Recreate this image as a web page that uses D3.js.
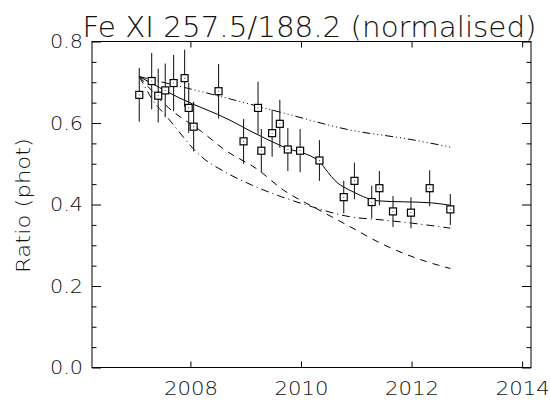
<!DOCTYPE html>
<html>
<head>
<meta charset="utf-8">
<script src="https://cdn.jsdelivr.net/npm/d3@7/dist/d3.min.js"></script>
<style>
  body { margin: 0; background: #fff; }
  text { font-family: "DejaVu Sans", sans-serif; font-weight: 200; fill: #111; }
</style>
</head>
<body>
<svg id="chart" width="550" height="403"></svg>
<script>
// Observed Fe XI 257.5/188.2 ratio (normalised), with 1-sigma errors
const obsYear = [2007.075, 2007.299, 2007.418, 2007.545, 2007.696, 2007.895, 2007.969, 2008.058,
                 2008.509, 2008.961, 2009.223, 2009.283, 2009.478, 2009.617, 2009.762, 2009.984,
                 2010.334, 2010.773, 2010.967, 2011.279, 2011.418, 2011.664, 2011.989, 2012.327, 2012.701];
const obsRatio = [0.669, 0.703, 0.667, 0.680, 0.698, 0.710, 0.637, 0.591,
                  0.678, 0.555, 0.637, 0.532, 0.575, 0.598, 0.535, 0.532,
                  0.508, 0.418, 0.458, 0.406, 0.440, 0.383, 0.380, 0.440, 0.388];
const obsErr = [0.066, 0.069, 0.066, 0.066, 0.069, 0.070, 0.061, 0.061,
                0.067, 0.055, 0.064, 0.053, 0.058, 0.059, 0.053, 0.053,
                0.050, 0.040, 0.045, 0.040, 0.042, 0.038, 0.038, 0.044, 0.038];

// Smoothed fit through the observations (solid)
const fitYear  = [2007.075, 2007.810, 2008.714, 2009.075, 2009.671, 2010.339, 2010.430, 2010.670,
                  2010.761, 2010.972, 2011.393, 2012.358, 2012.701];
const fitRatio = [0.714, 0.661, 0.607, 0.581, 0.542, 0.505, 0.489, 0.452,
                  0.444, 0.429, 0.409, 0.404, 0.398];

// Model curves
const modelAYear  = [2007.075, 2008.804, 2009.472, 2009.671, 2010.882, 2011.966, 2012.701];
const modelARatio = [0.714, 0.656, 0.632, 0.625, 0.583, 0.560, 0.541];

const modelBYear  = [2007.075, 2007.599, 2008.202, 2008.623, 2009.225, 2009.677, 2010.280,
                     2010.882, 2011.424, 2012.267, 2012.701];
const modelBRatio = [0.714, 0.638, 0.579, 0.534, 0.485, 0.436, 0.390,
                     0.346, 0.306, 0.260, 0.243];

const modelCYear  = [2007.075, 2007.322, 2007.593, 2008.202, 2008.623, 2009.106, 2009.648,
                     2010.069, 2010.882, 2011.483, 2012.020, 2012.701];
const modelCRatio = [0.714, 0.656, 0.612, 0.517, 0.480, 0.448, 0.419,
                     0.400, 0.370, 0.362, 0.354, 0.342];

const xTickVals = [2008, 2010, 2012, 2014];
const yTickVals = [0.0, 0.2, 0.4, 0.6, 0.8];
const yMinorVals = [0.05, 0.1, 0.15, 0.25, 0.3, 0.35, 0.45, 0.5, 0.55, 0.65, 0.7, 0.75];

const svg = d3.select("#chart");
const L = 92, R = 531, T = 41.5, B = 367.5;

const x = d3.scaleLinear().domain([2006.22, 2014.16]).range([L, R]);
const y = d3.scaleLinear().domain([0, 0.8]).range([B, T]);

// Frame
svg.append("rect")
  .attr("x", L).attr("y", T).attr("width", R - L).attr("height", B - T)
  .attr("fill", "none").attr("stroke", "#000").attr("stroke-width", 1);

function styleAxis(g) {
  g.select(".domain").remove();
  g.selectAll(".tick line").attr("stroke", "#000").attr("stroke-width", 1);
}

// Left axis with labels
svg.append("g").attr("transform", `translate(${L},0)`)
  .call(d3.axisLeft(y).tickValues(yTickVals).tickSize(-9).tickPadding(9)
        .tickFormat(d3.format(".1f")))
  .call(styleAxis)
  .call(g => g.selectAll(".tick text").attr("font-size", 19)
        .attr("fill", "#111").attr("font-family", "DejaVu Sans").attr("font-weight", 200)
        .attr("textLength", 33).attr("lengthAdjust", "spacingAndGlyphs"));
svg.append("g").attr("transform", `translate(${L},0)`)
  .call(d3.axisLeft(y).tickValues(yMinorVals).tickSize(-4.5).tickFormat(""))
  .call(styleAxis);

// Right axis
svg.append("g").attr("transform", `translate(${R},0)`)
  .call(d3.axisRight(y).tickValues(yTickVals).tickSize(-9).tickFormat(""))
  .call(styleAxis);
svg.append("g").attr("transform", `translate(${R},0)`)
  .call(d3.axisRight(y).tickValues(yMinorVals).tickSize(-4.5).tickFormat(""))
  .call(styleAxis);

// Bottom axis with labels
svg.append("g").attr("transform", `translate(0,${B})`)
  .call(d3.axisBottom(x).tickValues(xTickVals).tickSize(-6).tickPadding(14)
        .tickFormat(d3.format("d")))
  .call(styleAxis)
  .call(g => g.selectAll(".tick text").attr("font-size", 19)
        .attr("fill", "#111").attr("font-family", "DejaVu Sans").attr("font-weight", 200)
        .attr("textLength", 54).attr("lengthAdjust", "spacingAndGlyphs"));

// Top axis
svg.append("g").attr("transform", `translate(0,${T})`)
  .call(d3.axisTop(x).tickValues(xTickVals).tickSize(-6).tickFormat(""))
  .call(styleAxis);

// Title
svg.append("text")
  .attr("x", 309.5).attr("y", 37)
  .attr("text-anchor", "middle")
  .attr("font-size", 28)
  .attr("textLength", 454).attr("lengthAdjust", "spacingAndGlyphs")
  .text("Fe XI 257.5/188.2 (normalised)");

// Y-axis title
svg.append("text")
  .attr("transform", "translate(30,205.5) rotate(-90)")
  .attr("text-anchor", "middle")
  .attr("font-size", 19)
  .attr("textLength", 135).attr("lengthAdjust", "spacingAndGlyphs")
  .text("Ratio (phot)");

// Curves
const line = d3.line().x(d => x(d[0])).y(d => y(d[1])).curve(d3.curveMonotoneX);
const plot = svg.append("g");

function drawCurve(xs, ys, dash) {
  plot.append("path")
    .datum(xs.map((v, i) => [v, ys[i]]))
    .attr("d", line)
    .attr("fill", "none")
    .attr("stroke", "#000")
    .attr("stroke-width", 1)
    .attr("stroke-dasharray", dash);
}
drawCurve(modelAYear, modelARatio, "8,3,1,3,1,3,1,3");
drawCurve(modelBYear, modelBRatio, "7,6");
drawCurve(modelCYear, modelCRatio, "8,4,1,4");
drawCurve(fitYear, fitRatio, null);

// Error bars
const obs = obsYear.map((v, i) => ({ t: v, r: obsRatio[i], e: obsErr[i] }));
plot.selectAll("line.err").data(obs).enter().append("line")
  .attr("class", "err")
  .attr("x1", d => x(d.t)).attr("x2", d => x(d.t))
  .attr("y1", d => y(d.r + d.e)).attr("y2", d => y(d.r - d.e))
  .attr("stroke", "#222").attr("stroke-width", 1.1);

// Square markers
const S = 7;
plot.selectAll("rect.pt").data(obs).enter().append("rect")
  .attr("class", "pt")
  .attr("x", d => x(d.t) - S / 2).attr("y", d => y(d.r) - S / 2)
  .attr("width", S).attr("height", S)
  .attr("fill", "#fff").attr("stroke", "#000").attr("stroke-width", 1.2);
plot.selectAll("rect.dot").data(obs).enter().append("rect")
  .attr("class", "dot")
  .attr("x", d => x(d.t) - 0.5).attr("y", d => y(d.r) - 0.5)
  .attr("width", 1).attr("height", 1)
  .attr("fill", "#444");
</script>
</body>
</html>
